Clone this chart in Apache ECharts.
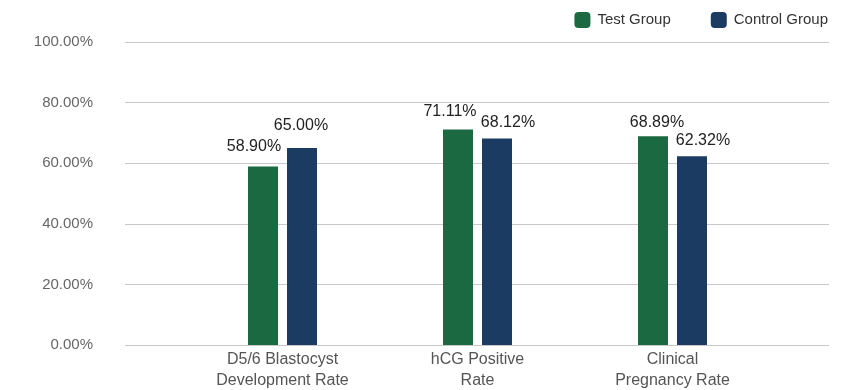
<!DOCTYPE html>
<html><head><meta charset="utf-8">
<script src="https://cdn.jsdelivr.net/npm/echarts@6/dist/echarts.min.js"></script>
<style>html,body{margin:0;padding:0;background:#fff}#c{width:851px;height:390px}</style>
</head><body><div id="c"></div>
<script>
var categories = ['D5/6 Blastocyst\nDevelopment Rate', 'hCG Positive\nRate', 'Clinical\nPregnancy Rate'];
var testGroup = [58.90, 71.11, 68.89];
var controlGroup = [65.00, 68.12, 62.32];
var yTicks = [0, 20, 40, 60, 80, 100];
// label nudges (style only)
var testLabelOffsets = [[-9, -2], [-8, 0], [4, 4]];
var controlLabelOffsets = [[-1, -4], [11, 2], [11, 2]];

var FONT = '"Liberation Sans", Arial, sans-serif';
var chart = echarts.init(document.getElementById('c'));
function items(vals, offs){
  return vals.map(function(v, i){ return {value:v, label:{offset:offs[i]}}; });
}
function lbl(){ return {show:true, position:'top', distance:10, fontSize:16, color:'#222', fontFamily:FONT,
  formatter:function(p){return p.value.toFixed(2)+'%';}}; }
chart.setOption({
  animation:false,
  legend:{top:7, right:18, itemWidth:16, itemHeight:16, itemGap:40, icon:'roundRect',
    textStyle:{fontSize:15, color:'#333', fontFamily:FONT, padding:[0,0,0,2]},
    data:['Test Group','Control Group']},
  grid:[{left:125, right:22, top:42, bottom:45, outerBoundsMode:'none', containLabel:false},
        {left:185, right:81, top:42, bottom:45, outerBoundsMode:'none', containLabel:false}],
  xAxis:[{type:'value', gridIndex:0, show:false, min:0, max:1},
    {type:'category', gridIndex:1, data:categories, axisLine:{show:false}, axisTick:{show:false},
     axisLabel:{fontSize:16, color:'#555', lineHeight:21, margin:4, fontFamily:FONT}}],
  yAxis:[{type:'value', gridIndex:0, min:yTicks[0], max:yTicks[yTicks.length-1], interval:20,
     axisLine:{show:false}, axisTick:{show:false},
     axisLabel:{fontSize:15, color:'#666', margin:32, fontFamily:FONT, padding:[4,0,0,0],
       formatter:function(v){return v.toFixed(2)+'%';}},
     splitLine:{lineStyle:{color:'#c8c8c8', width:1}}},
    {type:'value', gridIndex:1, min:0, max:100, show:false}],
  series:[
    {name:'Test Group', type:'bar', xAxisIndex:1, yAxisIndex:1, data:items(testGroup, testLabelOffsets), barWidth:30, barGap:'30%',
     itemStyle:{color:'#1b6940'}, label:lbl()},
    {name:'Control Group', type:'bar', xAxisIndex:1, yAxisIndex:1, data:items(controlGroup, controlLabelOffsets), barWidth:30, barGap:'30%',
     itemStyle:{color:'#1c3b63'}, label:lbl()}
  ]
});
</script></body></html>
